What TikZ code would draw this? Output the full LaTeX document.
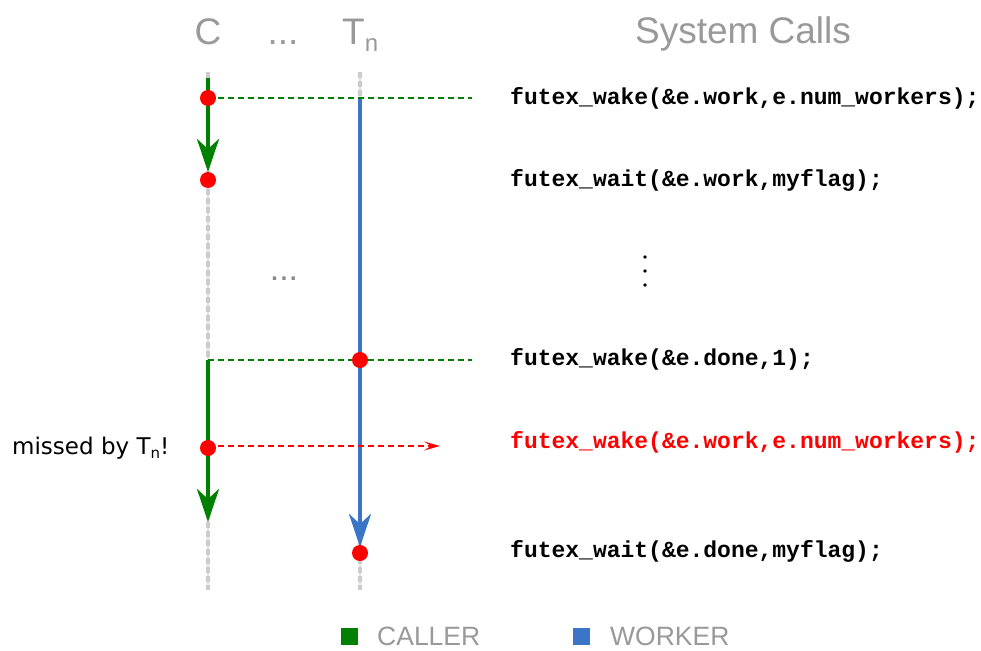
\documentclass[tikz,border=0pt]{standalone}
\usepackage{fontspec}
\setmainfont{Liberation Sans}
\setmonofont{Liberation Mono}
\newfontfamily\dvfont{DejaVu Sans}
\usetikzlibrary{arrows.meta}
\definecolor{cgreen}{HTML}{008000}
\definecolor{cblue}{HTML}{3A75C8}
\definecolor{cgray}{HTML}{999999}
\definecolor{lgray}{HTML}{CCCCCC}
\definecolor{dgray}{HTML}{888888}
\begin{document}
\begin{tikzpicture}[x=1pt,y=-1pt,
 hdr/.style={text=cgray,font=\fontsize{37}{42}\selectfont,inner sep=0,anchor=base},
 code/.style={font=\ttfamily\bfseries\fontsize{23}{26}\selectfont,anchor=west,inner sep=0},
 dot/.style={circle,fill=red,minimum size=16pt,inner sep=0},
 life/.style={lgray,line width=3.5pt,dash pattern=on 6pt off 3pt},
 lifebase/.style={lgray!60,line width=2pt},
 caller/.style={cgreen,line width=4.5pt},
 worker/.style={cblue,line width=4.5pt},
 bigtip/.style={-{Stealth[length=33pt,width=22pt,inset=10pt]}},
 sig/.style={cgreen,line width=1.8pt,dash pattern=on 6pt off 4pt},
 legbox/.style={minimum size=17pt,inner sep=0},
 legtext/.style={text=cgray,font=\fontsize{26.5}{30}\selectfont,anchor=west,inner sep=0},
 ]
\useasboundingbox (0,0) rectangle (981,650);
% headers
\node[hdr] (hC) at (208,45) {C};
\node[hdr] (hdots) at (283,45) {...};
\node[hdr,anchor=base west] (hT) at (342,45) {T\raisebox{-7pt}{\fontsize{24}{24}\selectfont n}};
\node[hdr] (hS) at (743,44) {System Calls};
% lifeline ends
\coordinate (ctop) at (208,72);
\coordinate (cbot) at (208,590);
\coordinate (ttop) at (360,72);
\coordinate (tbot) at (360,590);
\draw[lifebase] (ctop) -- (cbot);
\draw[life] (ctop) -- (cbot);
\draw[lifebase] (ttop) -- (tbot);
\draw[life] (ttop) -- (tbot);
% caller and worker segments
\coordinate (g1s) at (208,78);
\coordinate (g1e) at (208,172);
\coordinate (g2s) at (208,360);
\coordinate (g2e) at (208,522);
\coordinate (bs) at (360,98);
\coordinate (be) at (360,547);
\draw[caller,bigtip] (g1s) -- (g1e);
\draw[caller,bigtip] (g2s) -- (g2e);
\draw[worker,bigtip] (bs) -- (be);
% signal lines
\coordinate (s1e) at (472,98);
\coordinate (s2e) at (472,360);
\coordinate (r1e) at (440,446);
\draw[sig] (208,98) coordinate (s1s) -- (s1e);
\draw[sig] (g2s) -- (s2e);
\draw[red,line width=1.8pt,dash pattern=on 6pt off 4pt,-{Stealth[length=16pt,width=9pt,inset=7pt]}] (208,446) coordinate (r1s) -- (r1e);
% dots
\node[dot] (d1) at (208,98) {};
\node[dot] (d2) at (208,180) {};
\node[dot] (d3) at (360,360) {};
\node[dot] (d4) at (208,448) {};
\node[dot] (d5) at (360,553) {};
% middle ellipsis
\node[text=dgray,font=\fontsize{34}{38}\selectfont,inner sep=0,anchor=base] (mdots) at (284,280) {...};
% vertical dots
\fill (645,257) circle (1.8pt) (645,271) circle (1.8pt) (645,285) circle (1.8pt);
% code
\node[code] (k1) at (510,98) {futex\_wake(\&e.work,e.num\_workers);};
\node[code] (k2) at (510,180) {futex\_wait(\&e.work,myflag);};
\node[code] (k3) at (510,359) {futex\_wake(\&e.done,1);};
\node[code,text=red] (k4) at (510,442) {futex\_wake(\&e.work,e.num\_workers);};
\node[code] (k5) at (510,551) {futex\_wait(\&e.done,myflag);};
% missed label
\node[font=\dvfont\fontsize{23}{26}\selectfont,anchor=base west,inner sep=0] (miss) at (12,454) {missed by T\raisebox{-4pt}{\fontsize{15}{15}\selectfont n}!};
% legend
\node[legbox,fill=cgreen] (lg) at (349.5,636.5) {};
\node[legtext] (lgt) at (377,636) {CALLER};
\node[legbox,fill=cblue] (lb) at (581.5,636.5) {};
\node[legtext] (lbt) at (610,636) {WORKER};
\end{tikzpicture}
\end{document}
